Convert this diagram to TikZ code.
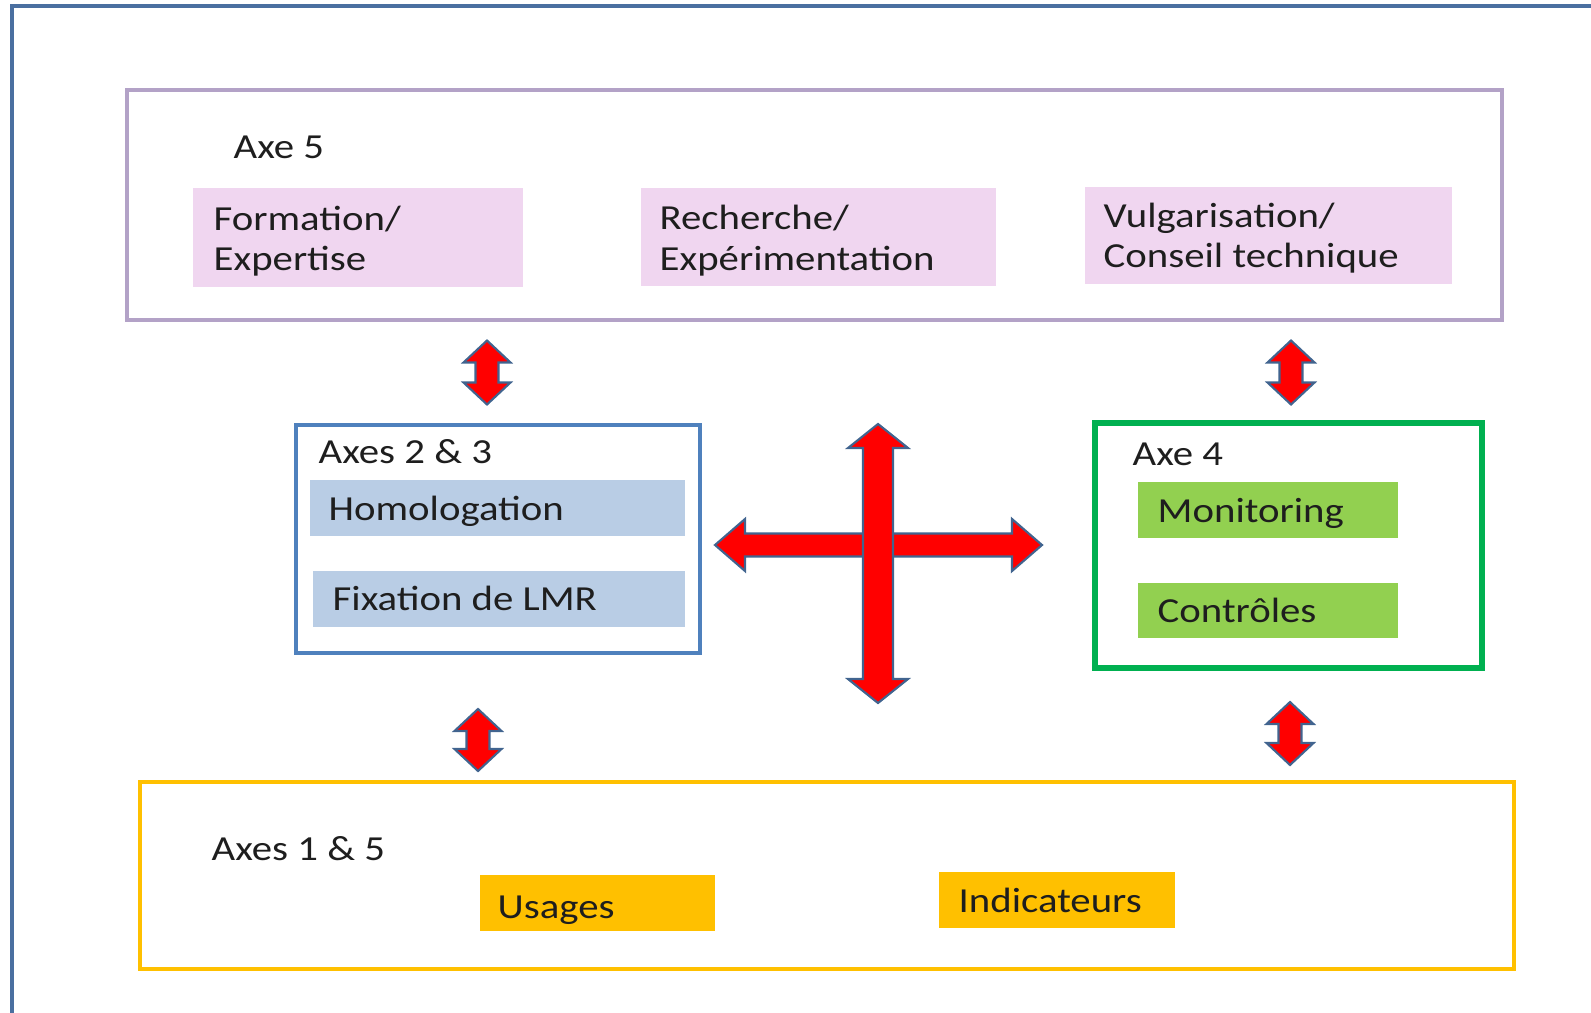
\documentclass[tikz,border=0pt]{standalone}
\usepackage{fontspec}
\setmainfont{Carlito}[FakeStretch=1.16]
\usetikzlibrary{fit}

\definecolor{cadre}{HTML}{4A6FA0}
\definecolor{violetbord}{HTML}{B3A2C7}
\definecolor{rose}{HTML}{F0D6F0}
\definecolor{bleubord}{HTML}{4F81BD}
\definecolor{bleufond}{HTML}{B9CDE5}
\definecolor{vertbord}{HTML}{00B050}
\definecolor{vertfond}{HTML}{92D050}
\definecolor{jaune}{HTML}{FFC000}
\definecolor{rouge}{HTML}{FF0000}
\definecolor{flechebord}{HTML}{41648F}
\definecolor{texte}{HTML}{1E1E1E}

\tikzset{
	boite/.style={inner sep=0pt},
	txt/.style={anchor=base west, inner sep=0pt, text=texte, font=\fontsize{10}{11.4}\selectfont},
	fleche/.style={fill=rouge, draw=flechebord, line width=0.6pt}
}

% fleche double verticale : centre x, centre y, demi-longueur, demi-tete, demi-corps, longueur tete
\newcommand{\flecheV}[6]{
	\filldraw[fleche] (#1,{#2-#3}) -- ({#1+#4},{#2-#3+#6}) -- ({#1+#5},{#2-#3+#6})
		-- ({#1+#5},{#2+#3-#6}) -- ({#1+#4},{#2+#3-#6}) -- (#1,{#2+#3})
		-- ({#1-#4},{#2+#3-#6}) -- ({#1-#5},{#2+#3-#6}) -- ({#1-#5},{#2-#3+#6})
		-- ({#1-#4},{#2-#3+#6}) -- cycle;
}
% fleche double horizontale
\newcommand{\flecheH}[6]{
	\filldraw[fleche] ({#1-#3},#2) -- ({#1-#3+#6},{#2-#4}) -- ({#1-#3+#6},{#2-#5})
		-- ({#1+#3-#6},{#2-#5}) -- ({#1+#3-#6},{#2-#4}) -- ({#1+#3},#2)
		-- ({#1+#3-#6},{#2+#4}) -- ({#1+#3-#6},{#2+#5}) -- ({#1-#3+#6},{#2+#5})
		-- ({#1-#3+#6},{#2+#4}) -- cycle;
}

\begin{document}
\begin{tikzpicture}[x=0.01cm,y=-0.01cm]
	\useasboundingbox (0,0) rectangle (1591,1012);
	\clip (0,0) rectangle (1591,1012);
	% cadre exterieur
	\draw[cadre, line width=1pt] (12,1100) -- (12,6) -- (1700,6);

	% Axe 5
	\node[boite, fit={(127,90) (1502,320)}, draw=violetbord, line width=1.1pt] (axeCinq) {};
	\node[txt] (titreCinq) at (233,158) {Axe 5};
	\node[boite, fill=rose, fit={(193,188) (523,287)}] (formation) {};
	\node[txt] (formationA) at (213,230) {Formation/};
	\node[txt] (formationB) at (213,270) {Expertise};
	\node[boite, fill=rose, fit={(641,188) (996,286)}] (recherche) {};
	\node[txt] (rechercheA) at (659,229) {Recherche/};
	\node[txt] (rechercheB) at (659,270) {Expérimentation};
	\node[boite, fill=rose, fit={(1085,187) (1452,284)}] (vulgarisation) {};
	\node[txt] (vulgarisationA) at (1103,227) {Vulgarisation/};
	\node[txt] (vulgarisationB) at (1103,267) {Conseil technique};

	% Axes 2 & 3
	\node[boite, fit={(296,425) (700,653)}, draw=bleubord, line width=1.1pt] (axesDeux) {};
	\node[txt] (titreDeux) at (318,463) {Axes 2 \& 3};
	\node[boite, fill=bleufond, fit={(310,480) (685,536)}] (homologation) {};
	\node[txt] (homologationT) at (328,520) {Homologation};
	\node[boite, fill=bleufond, fit={(313,571) (685,627)}] (fixation) {};
	\node[txt] (fixationT) at (332,610) {Fixation de LMR};

	% Axe 4
	\node[boite, fit={(1095,423) (1482,668)}, draw=vertbord, line width=1.6pt] (axeQuatre) {};
	\node[txt] (titreQuatre) at (1132,465) {Axe 4};
	\node[boite, fill=vertfond, fit={(1138,482) (1398,538)}] (monitoring) {};
	\node[txt] (monitoringT) at (1157,522) {Monitoring};
	\node[boite, fill=vertfond, fit={(1138,583) (1398,638)}] (controles) {};
	\node[txt] (controlesT) at (1157,622) {Contrôles};

	% Axes 1 & 5
	\node[boite, fit={(140,782) (1514,969)}, draw=jaune, line width=1.1pt] (axesUn) {};
	\node[txt] (titreUn) at (211,860) {Axes 1 \& 5};
	\node[boite, fill=jaune, fit={(480,875) (715,931)}] (usages) {};
	\node[txt] (usagesT) at (497,918) {Usages};
	\node[boite, fill=jaune, fit={(939,872) (1175,928)}] (indicateurs) {};
	\node[txt] (indicateursT) at (958,912) {Indicateurs};

	% fleches
	\flecheV{487}{372.5}{32}{23.5}{11.5}{22}
	\flecheV{1291}{372.5}{32}{23.5}{11.5}{22}
	\flecheV{478}{740}{31}{23.5}{11.5}{22}
	\flecheV{1290}{733.5}{31.5}{23.5}{11.5}{22}
	% croix
	\flecheH{878.5}{545}{163.5}{26}{11.5}{30}
	\flecheV{878}{563.5}{139.5}{30}{15}{24}
\end{tikzpicture}
\end{document}
